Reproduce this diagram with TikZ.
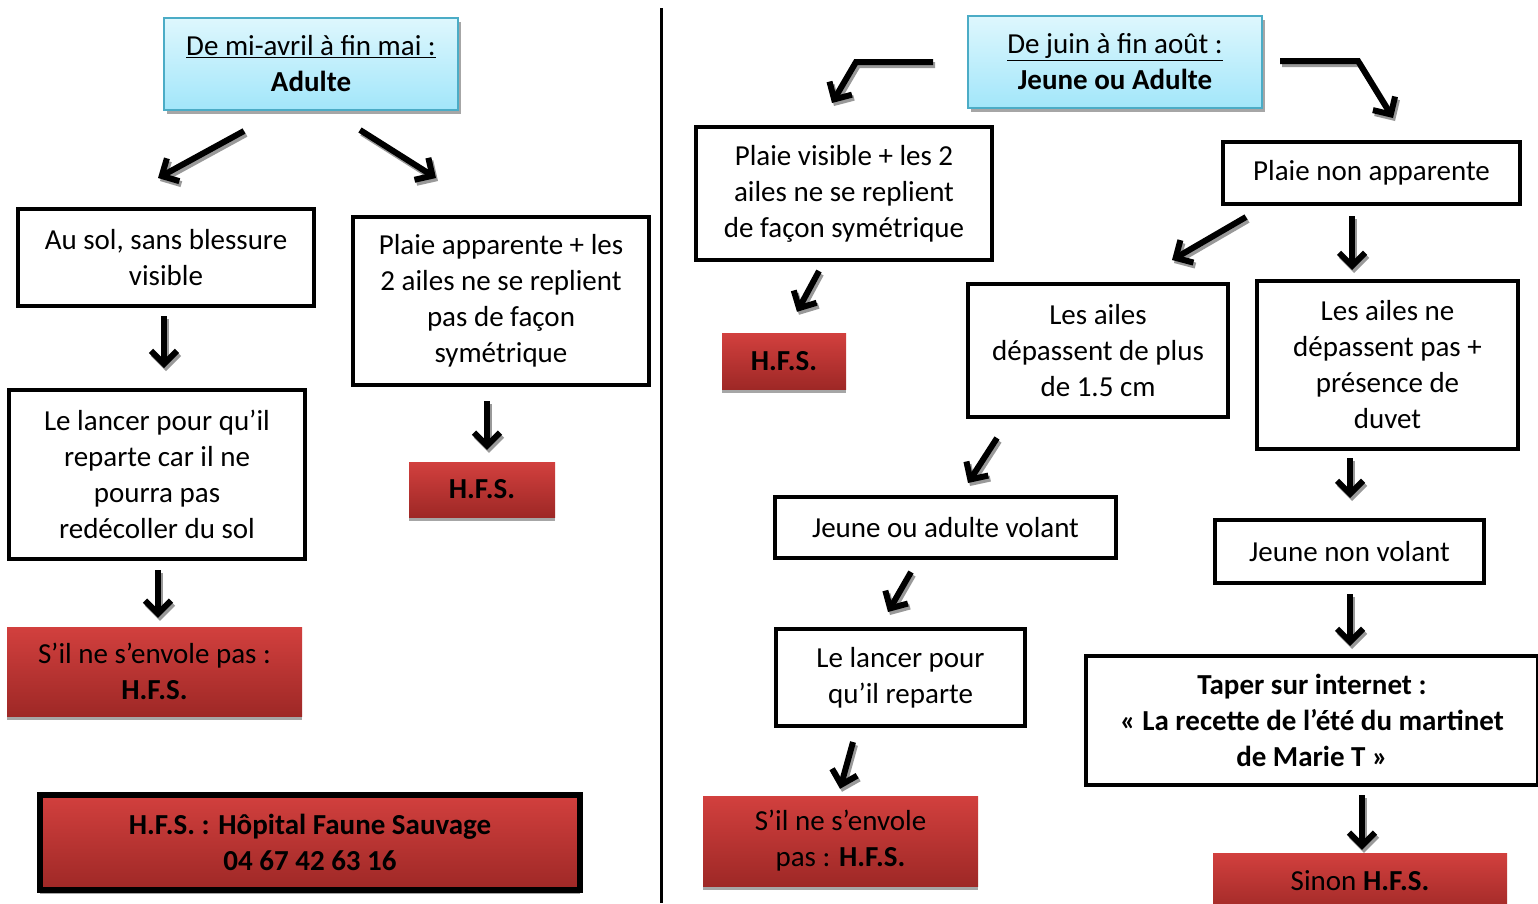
\documentclass[tikz,border=0pt]{standalone}
\usepackage{fontspec}
\setmainfont{Carlito}
\usetikzlibrary{arrows.meta,calc}
\definecolor{redtop}{RGB}{210,64,62}
\definecolor{redbot}{RGB}{158,40,38}
\definecolor{cyantop}{RGB}{222,247,253}
\definecolor{cyanbot}{RGB}{162,230,250}
\definecolor{cyanline}{RGB}{75,172,198}
\tikzset{
  txt/.style={font=\fontsize{29}{36}\selectfont, align=center, inner sep=0pt},
  blackbox/.style={txt, draw=black, line width=4pt, fill=white},
  redbox/.style={txt, top color=redtop, bottom color=redbot, draw=none,
    preaction={fill=black!35, transform canvas={shift={(0pt,-4pt)}}}},
  titlebox/.style={txt, top color=cyantop, bottom color=cyanbot, draw=cyanline, line width=2pt,
    preaction={fill=black!35, transform canvas={shift={(3pt,-4pt)}}}},
  arrshadow/.style={draw=black!40, line width=6pt, -{Straight Barb[length=13pt,width=26pt,line width=6pt]}},
  arr/.style={draw=black, line width=6pt, -{Straight Barb[length=13pt,width=26pt,line width=6pt]}},
}
\begin{document}
\begin{tikzpicture}[x=1pt,y=-1pt]
\useasboundingbox (0,0) rectangle (1538,903);
\fill[white] (0,0) rectangle (1538,903);
% divider
\draw[line width=3pt] (661,8) -- (661,903);

% ---- left side ----
\node[titlebox, minimum width=294pt, minimum height=92pt] (T1) at (311,64)
  {\underline{De mi-avril à fin mai :}\\\textbf{Adulte}};
\node[blackbox, minimum width=296pt, minimum height=97pt] (A) at (166,257.5)
  {Au sol, sans blessure\\visible};
\node[blackbox, minimum width=296pt, minimum height=168pt] (B) at (501,301)
  {Plaie apparente + les\\2 ailes ne se replient\\pas de façon\\symétrique};
\node[blackbox, minimum width=296pt, minimum height=169pt] (C) at (157,474.5)
  {Le lancer pour qu’il\\reparte car il ne\\pourra pas\\redécoller du sol};
\node[redbox, minimum width=295pt, minimum height=89pt] (D) at (154.5,671.5)
  {S’il ne s’envole pas :\\\textbf{H.F.S.}};
\node[redbox, minimum width=146pt, minimum height=55pt] (E) at (482,489.5)
  {\textbf{H.F.S.}};
\node[redbox, draw=black, line width=6pt, minimum width=540pt, minimum height=95pt] (F) at (310,842.5)
  {\textbf{H.F.S. : Hôpital Faune Sauvage}\\\textbf{04 67 42 63 16}};

% ---- right side ----
\node[titlebox, minimum width=294pt, minimum height=92pt] (T2) at (1115,62)
  {\underline{De juin à fin août :}\\\textbf{Jeune ou Adulte}};
\node[blackbox, minimum width=296pt, minimum height=133pt] (G) at (844,193.5)
  {Plaie visible + les 2\\ailes ne se replient\\de façon symétrique};
\node[redbox, minimum width=124pt, minimum height=56pt] (H) at (784,361)
  {\textbf{H.F.S.}};
\node[blackbox, minimum width=297pt, minimum height=62pt] (I) at (1371.5,173)
  {Plaie non apparente};
\node[blackbox, minimum width=260pt, minimum height=133pt] (J) at (1098,350.5)
  {Les ailes\\dépassent de plus\\de 1.5 cm};
\node[blackbox, minimum width=261pt, minimum height=168pt] (K) at (1387.5,365)
  {Les ailes ne\\dépassent pas +\\présence de\\duvet};
\node[blackbox, minimum width=341pt, minimum height=61pt] (L) at (945.5,527.5)
  {Jeune ou adulte volant};
\node[blackbox, minimum width=269pt, minimum height=63pt] (M) at (1349.5,551.5)
  {Jeune non volant};
\node[blackbox, minimum width=249pt, minimum height=97pt] (N) at (900.5,677.5)
  {Le lancer pour\\qu’il reparte};
\node[redbox, minimum width=275pt, minimum height=90pt] (O) at (840.5,841)
  {S’il ne s’envole\\pas : \textbf{H.F.S.}};
\node[blackbox, minimum width=452pt, minimum height=129pt, font=\bfseries\fontsize{29}{36}\selectfont] (P) at (1312,720.5)
  {Taper sur internet :\\« La recette de l’été du martinet\\de Marie T »};
\node[redbox, minimum width=294pt, minimum height=62pt] (Q) at (1360,884)
  {\raisebox{6pt}{Sinon \textbf{H.F.S.}}};

% ---- connectors: shadow pass, then black pass ----
\foreach \st/\sx/\sy in {arrshadow/2/3, arr/0/0}{
\begin{scope}[transform canvas={shift={(\sx pt,-\sy pt)}}]
\draw[\st] ($(T1.south)+(-67,20)$) -- ($(A.north)+(-8,-29)$);
\draw[\st] ($(T1.south)+(49,19)$) -- ($(B.north)+(-65,-37)$);
\draw[\st] ($(A.south)+(-2,8)$) -- ($(C.north)+(7,-20)$);
\draw[\st] ($(B.south)+(-14,14)$) -- ($(E.north)+(5,-12)$);
\draw[\st] ($(C.south)+(1,9)$) -- ($(D.north)+(3.5,-9)$);
\draw[\st] ($(T2.west)+(-34,0)$) -- ++(-77,0) -- ($(G.north)+(-12,-22)$);
\draw[\st] ($(T2.east)+(17,-1)$) -- ++(78,0) -- ($(I.north)+(21.5,-22)$);
\draw[\st] ($(G.south)+(-25,9)$) -- ($(H.north)+(13,-21)$);
\draw[\st] ($(I.south west)+(25,11)$) -- ($(J.north east)+(-58,-22)$);
\draw[\st] ($(I.south)+(-19.5,10)$) -- ($(K.north)+(-35.5,-9)$);
\draw[\st] ($(J.south)+(-101,19)$) -- ($(L.north)+(22.5,-12)$);
\draw[\st] ($(K.south)+(-37.5,7)$) -- ($(M.north)+(0.5,-20)$);
\draw[\st] ($(L.south)+(-34.5,12)$) -- ($(N.north)+(-12.5,-15)$);
\draw[\st] ($(M.south)+(0.5,9)$) -- ($(P.north)+(38,-8)$);
\draw[\st] ($(N.south)+(-47.5,14)$) -- ($(O.north)+(-0.5,-7)$);
\draw[\st] ($(P.south)+(50,8)$) -- ($(Q.north)+(2,-3)$);
\end{scope}}
\end{tikzpicture}
\end{document}
